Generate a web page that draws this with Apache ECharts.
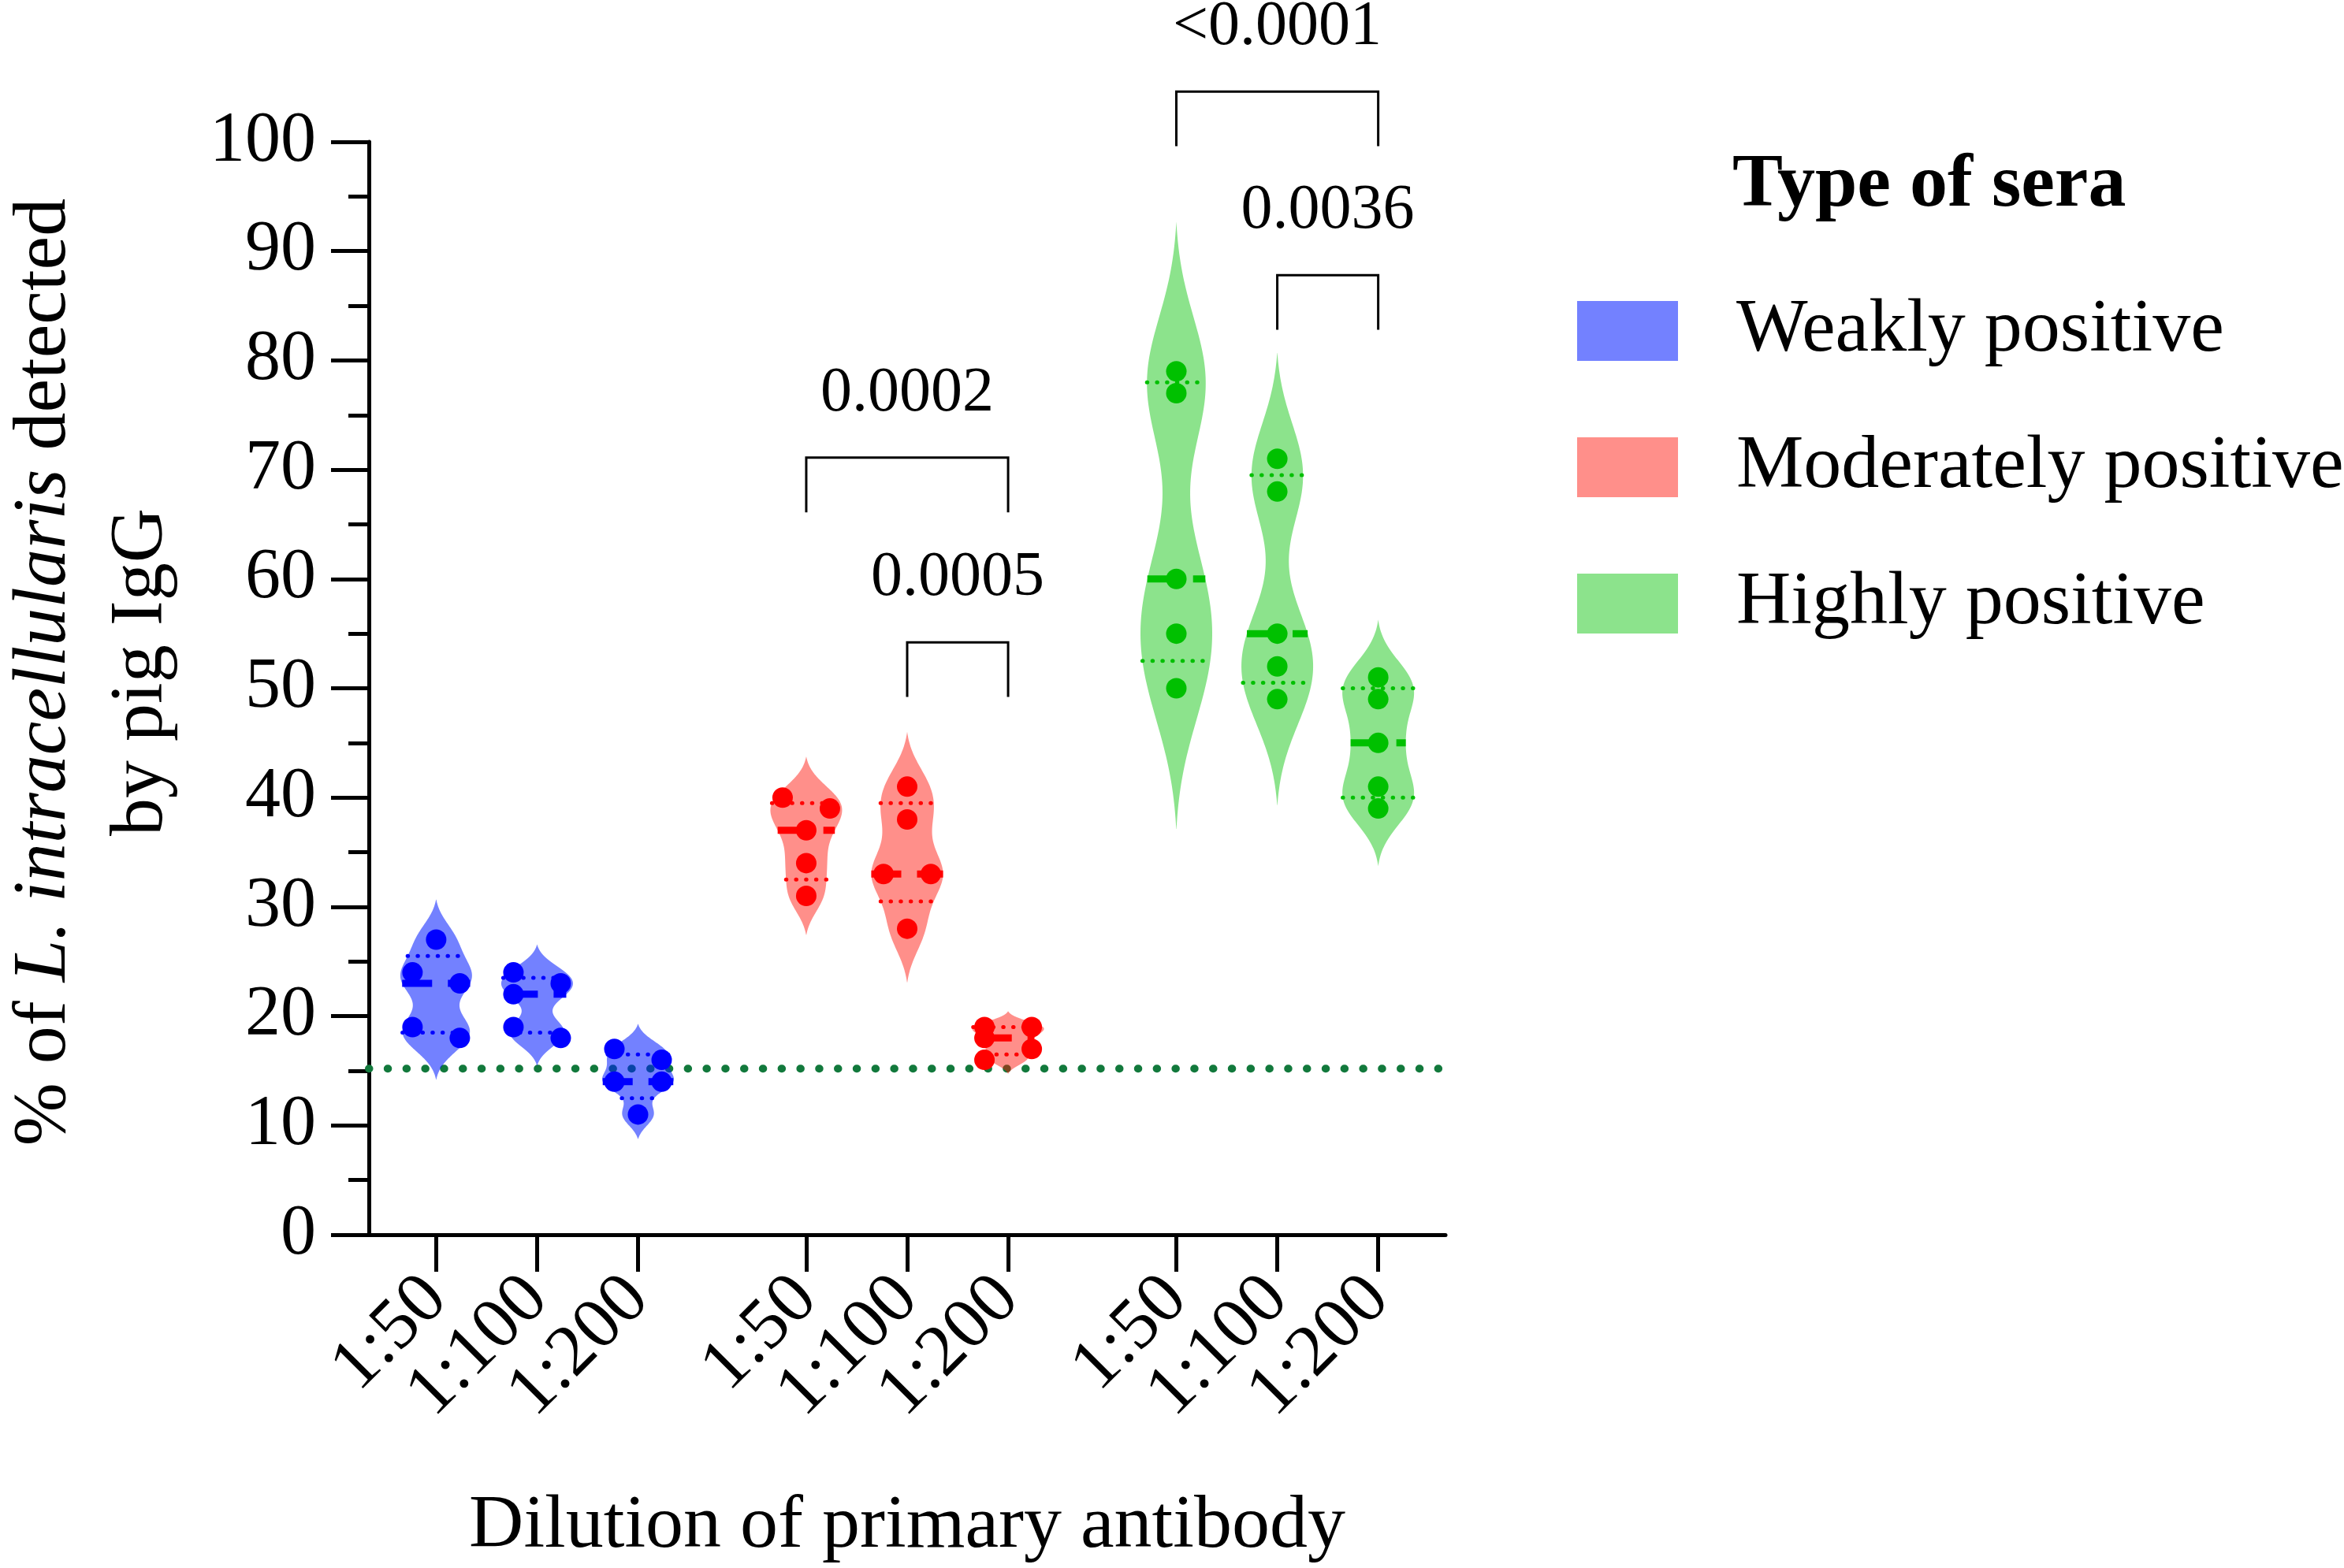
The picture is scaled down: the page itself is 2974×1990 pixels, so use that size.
<!DOCTYPE html>
<html>
<head>
<meta charset="utf-8">
<script src="https://cdn.jsdelivr.net/npm/echarts@6/dist/echarts.min.js"></script>
<style>
  html, body { margin: 0; padding: 0; background: #fff; }
  #chart { width: 2974px; height: 1990px; }
</style>
</head>
<body>
<div id="chart"></div>
<script>
// categories
const dilutions = ['1:50', '1:100', '1:200'];
const seraTypes = ['Weakly positive', 'Moderately positive', 'Highly positive'];

// % of L. intracellularis detected, one array per dilution
const weakly = [[27, 24, 23, 19, 18], [24, 23, 22, 19, 18], [17, 16, 14, 14, 11]];
const moderately = [[40, 39, 37, 34, 31], [41, 38, 33, 33, 28], [19, 19, 18, 17, 16]];
const highly = [[79, 77, 60, 55, 50], [71, 68, 55, 52, 49], [51, 49, 45, 41, 39]];
const cutoff = 15.2;

// significance brackets (sera type, from dilution, to dilution, bracket height, p)
const compType = [1, 1, 2, 2];
const compFrom = [0, 1, 0, 1];
const compTo = [2, 2, 2, 2];
const compY = [71.1, 54.2, 104.6, 87.8];
const compP = ['0.0002', '0.0005', '<0.0001', '0.0036'];

const allData = [weakly, moderately, highly];
const dotColors = ['#0000ff', '#ff0000', '#00c000'];
const fillColors = ['rgba(0,26,255,0.55)', 'rgba(255,10,0,0.46)', 'rgba(0,192,0,0.45)'];
const FONT = 'Liberation Serif';
const HALF = 45.5;      // px, max half width of a violin
const LEG = 5;          // bracket leg, in axis units

// slot on the x axis: 3 slots between dilutions, wider gap between groups
const xPos = (g, d) => 2 + 11 * g + 3 * d;
const NSLOT = 33;
const BLANK = '\u00a0';
const slotLabels = [];
for (let i = 0; i < NSLOT; i++) slotLabels.push('');
// blank end labels so echarts' min/max label check leaves the real ones alone
slotLabels[0] = BLANK;
slotLabels[NSLOT - 1] = BLANK;
seraTypes.forEach((s, g) => dilutions.forEach((lab, d) => { slotLabels[xPos(g, d)] = lab; }));
const hasLabel = i => slotLabels[i] !== '';
const isTick = i => slotLabels[i] !== '' && slotLabels[i] !== BLANK;

// quartiles the way Prism does them: position p*(n+1)
function quantile(vals, p) {
  const s = vals.slice().sort((a, b) => a - b);
  const pos = p * (s.length + 1) - 1;
  const lo = Math.max(0, Math.min(s.length - 1, Math.floor(pos)));
  const hi = Math.min(s.length - 1, lo + 1);
  return s[lo] + (s[hi] - s[lo]) * (pos - lo);
}

// gaussian kde, normalised so the widest point is 1
function kde(vals) {
  const n = vals.length;
  const mean = vals.reduce((a, b) => a + b, 0) / n;
  const sd = Math.sqrt(vals.reduce((a, v) => a + (v - mean) * (v - mean), 0) / (n - 1));
  const bw = 0.45 * sd;
  const dens = y => vals.reduce((a, v) => { const u = (y - v) / bw; return a + Math.exp(-u * u / 2); }, 0);
  const lo = Math.min(...vals) - 3 * bw, hi = Math.max(...vals) + 3 * bw;
  const raw = [];
  for (let i = 0; i <= 240; i++) {
    const y = lo + (hi - lo) * i / 240;
    raw.push([y, dens(y)]);
  }
  const dmax = Math.max(...raw.map(p => p[1]));
  const t = 0.04 * dmax;
  const width = y => Math.max(0, (dens(y) - t) / (dmax - t));
  return { pts: raw.filter(p => p[1] > t).map(p => [p[0], (p[1] - t) / (dmax - t)]), width: width };
}

// put touching dots side by side, left first
function sides(vals) {
  const order = vals.map((v, i) => i).sort((a, b) => vals[b] - vals[a]);
  const out = vals.map(() => 0);
  let i = 0;
  while (i < order.length) {
    let j = i;
    while (j + 1 < order.length && vals[order[j]] - vals[order[j + 1]] < 1.5) j++;
    if (j > i) for (let k = i; k <= j; k++) out[order[k]] = (k - i) % 2 === 0 ? -1 : 1;
    i = j + 1;
  }
  return out;
}

const shapes = allData.map(grp => grp.map(kde));

const series = [];

// cutoff line, under the violins
series.push({
  type: 'custom',
  z: 1,
  silent: true,
  data: [[0, cutoff]],
  renderItem: (params, api) => {
    const c = params.coordSys;
    const y = api.coord([0, api.value(1)])[1];
    return {
      type: 'line',
      shape: { x1: c.x, y1: y, x2: c.x + c.width, y2: y },
      style: { stroke: '#12793c', lineWidth: 10, lineDash: [0.5, 23.3], lineCap: 'round' }
    };
  }
});

allData.forEach((grp, g) => {
  series.push({
    name: seraTypes[g],
    type: 'custom',
    z: 2,
    itemStyle: { color: fillColors[g] },
    encode: { x: 0, y: 1 },
    data: grp.map((vals, d) => [xPos(g, d), quantile(vals, 0.5), d]),
    renderItem: (params, api) => {
      const d = api.value(2);
      const xv = api.value(0);
      const shape = shapes[g][d];
      const vals = grp[d];
      const cx = api.coord([xv, 0])[0];
      const left = [], right = [];
      shape.pts.forEach(([y, w]) => {
        const py = api.coord([xv, y])[1];
        left.push([cx - w * HALF, py]);
        right.unshift([cx + w * HALF, py]);
      });
      const hline = (v, style) => {
        const hw = shape.width(v) * HALF;
        const py = api.coord([xv, v])[1];
        return { type: 'line', shape: { x1: cx - hw, y1: py, x2: cx + hw, y2: py }, style: style };
      };
      return {
        type: 'group',
        children: [
          { type: 'polygon', shape: { points: left.concat(right) }, style: { fill: fillColors[g] } },
          hline(quantile(vals, 0.25), { stroke: dotColors[g], lineWidth: 5, lineDash: [0.5, 12.2], lineCap: 'round' }),
          hline(quantile(vals, 0.75), { stroke: dotColors[g], lineWidth: 5, lineDash: [0.5, 12.2], lineCap: 'round' }),
          hline(quantile(vals, 0.5), { stroke: dotColors[g], lineWidth: 9, lineDash: [38, 20] })
        ]
      };
    }
  });
});

// individual sera
allData.forEach((grp, g) => {
  const data = [];
  grp.forEach((vals, d) => {
    const s = sides(vals);
    vals.forEach((v, i) => data.push({ value: [xPos(g, d), v], symbolOffset: [s[i] * 30, 0] }));
  });
  series.push({
    type: 'scatter',
    z: 3,
    symbolSize: 26,
    itemStyle: { color: dotColors[g], opacity: 1 },
    data: data
  });
});

// p-value brackets
series.push({
  type: 'custom',
  z: 4,
  clip: false,
  encode: { x: [0, 1], y: 2 },
  data: compP.map((p, i) => [xPos(compType[i], compFrom[i]), xPos(compType[i], compTo[i]), compY[i], i]),
  renderItem: (params, api) => {
    const a = api.coord([api.value(0), api.value(2)]);
    const b = api.coord([api.value(1), api.value(2)]);
    const foot = api.coord([api.value(0), api.value(2) - LEG])[1];
    return {
      type: 'group',
      children: [
        { type: 'polyline', shape: { points: [[a[0], foot], a, b, [b[0], foot]] },
          style: { stroke: '#000', lineWidth: 3, fill: null } },
        { type: 'text', x: (a[0] + b[0]) / 2, y: a[1] - 81,
          style: { text: compP[api.value(3)], font: '80px "' + FONT + '"', fill: '#000', align: 'center', verticalAlign: 'middle' } }
      ]
    };
  }
});

const chart = echarts.init(document.getElementById('chart'));
chart.setOption({
  animation: false,
  backgroundColor: '#fff',
  grid: { left: 468, top: 180, width: 1366, height: 1387, containLabel: false },
  xAxis: {
    type: 'category',
    boundaryGap: false,
    data: slotLabels,
    splitLine: { show: false },
    axisLine: { show: true, lineStyle: { color: '#000', width: 5 } },
    axisTick: {
      show: true,
      length: 47,
      interval: i => isTick(i),
      lineStyle: { color: '#000', width: 5 }
    },
    axisLabel: {
      show: true,
      rotate: 45,
      margin: 68,
      fontSize: 92,
      fontFamily: FONT,
      color: '#000',
      hideOverlap: false,
      interval: i => hasLabel(i)
    }
  },
  yAxis: {
    type: 'value',
    min: 0,
    max: 100,
    interval: 10,
    splitLine: { show: false },
    axisLine: { show: true, lineStyle: { color: '#000', width: 5 } },
    axisTick: { show: true, length: 48, lineStyle: { color: '#000', width: 5 } },
    minorTick: { show: true, splitNumber: 2, length: 26, lineStyle: { color: '#000', width: 5 } },
    axisLabel: { margin: 67, fontSize: 90, fontFamily: FONT, color: '#000' }
  },
  legend: {
    orient: 'vertical',
    left: 1996,
    top: 367,
    itemWidth: 128,
    itemHeight: 76,
    itemGap: 77,
    icon: 'rect',
    selectedMode: false,
    textStyle: { fontSize: 96, fontFamily: FONT, color: '#000', lineHeight: 92, padding: [0, 0, 0, 69] },
    data: seraTypes.map((n, g) => ({ name: n, itemStyle: { color: fillColors[g] } }))
  },
  graphic: [
    {
      type: 'text', x: 118, y: 853, rotation: Math.PI / 2,
      style: {
        text: '{n|% of }{i|L. intracellularis}{n| detected}\n{n|by pig IgG}',
        align: 'center', verticalAlign: 'middle', fill: '#000',
        rich: {
          n: { fontSize: 96, fontFamily: FONT, lineHeight: 123 },
          i: { fontSize: 96, fontFamily: FONT, fontStyle: 'italic', lineHeight: 123 }
        }
      }
    },
    {
      type: 'text', x: 1151, y: 1938,
      style: { text: 'Dilution of primary antibody', font: '96px "' + FONT + '"', fill: '#000', align: 'center', verticalAlign: 'middle' }
    },
    {
      type: 'text', x: 2198, y: 236,
      style: { text: 'Type of sera', font: 'bold 96px "' + FONT + '"', fill: '#000', align: 'left', verticalAlign: 'middle' }
    }
  ],
  series: series
});
</script>
</body>
</html>
